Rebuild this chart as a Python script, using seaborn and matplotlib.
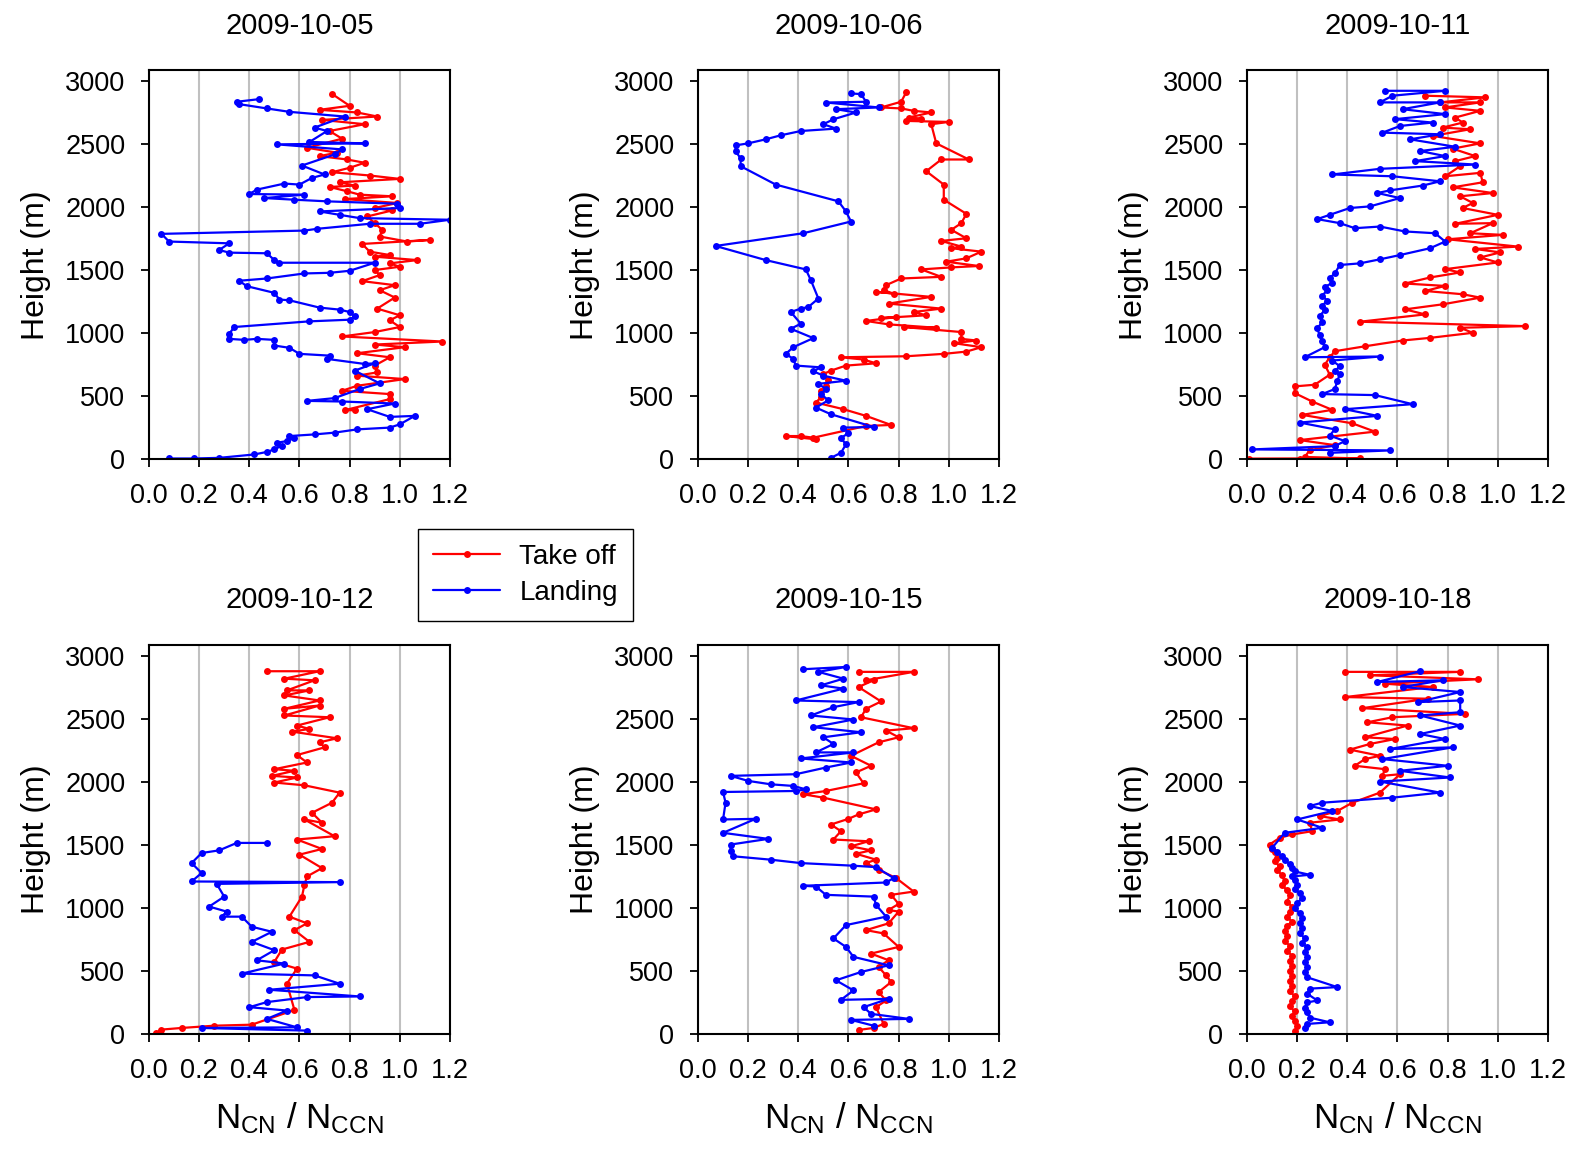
import pandas as pd
import matplotlib.pyplot as plt
import seaborn as sns

dates = ["2009-10-05", "2009-10-06", "2009-10-11", "2009-10-12", "2009-10-15", "2009-10-18"]
x_ticks = [0.0, 0.2, 0.4, 0.6, 0.8, 1.0, 1.2]
y_ticks = [0, 500, 1000, 1500, 2000, 2500, 3000]

# (N_CN / N_CCN, height in m), read along each profile
takeoff_1005 = [
    (0.73, 2900), (0.80, 2806), (0.68, 2774), (0.83, 2753), (0.91, 2721), (0.69, 2694),
    (0.86, 2660), (0.72, 2606), (0.77, 2545), (0.63, 2473), (0.75, 2434), (0.68, 2407),
    (0.79, 2380), (0.86, 2354), (0.80, 2314), (0.73, 2279), (0.88, 2253), (1.00, 2226),
    (0.76, 2199), (0.82, 2173), (0.72, 2162), (0.79, 2128), (0.84, 2101), (0.97, 2088),
    (0.78, 2066), (0.99, 2035), (0.90, 1995), (0.97, 1976), (0.87, 1928), (0.90, 1875),
    (0.93, 1822), (0.92, 1769), (1.03, 1729), (1.12, 1742), (0.85, 1710), (0.88, 1649),
    (0.96, 1622), (0.90, 1609), (1.07, 1582), (0.96, 1556), (1.00, 1529), (0.90, 1503),
    (0.92, 1463), (0.85, 1415), (0.98, 1383), (0.92, 1343), (0.98, 1285), (0.91, 1197),
    (1.00, 1144), (0.96, 1104), (1.00, 1051), (0.90, 1011), (0.77, 976), (1.17, 936),
    (0.90, 912), (1.02, 891), (0.83, 843), (0.96, 811), (0.90, 745), (0.91, 691),
    (0.83, 665), (1.02, 638), (0.83, 585), (0.77, 545), (0.96, 519), (0.96, 479),
    (0.78, 391), (0.82, 391),
]
landing_1005 = [
    (0.44, 2859), (0.35, 2838), (0.36, 2819), (0.47, 2785), (0.56, 2758), (0.78, 2721),
    (0.66, 2633), (0.71, 2606), (0.64, 2519), (0.86, 2508), (0.51, 2500), (0.77, 2460),
    (0.74, 2420), (0.61, 2332), (0.70, 2261), (0.65, 2234), (0.60, 2181), (0.54, 2189),
    (0.43, 2141), (0.40, 2106), (0.62, 2101), (0.46, 2074), (0.58, 2061), (0.71, 2048),
    (0.99, 2029), (1.00, 1995), (0.68, 1968), (0.76, 1941), (0.84, 1915), (1.20, 1902),
    (1.08, 1870), (0.88, 1870), (0.67, 1830), (0.62, 1816), (0.05, 1790), (0.08, 1729),
    (0.32, 1715), (0.28, 1662), (0.32, 1641), (0.47, 1636), (0.50, 1582), (0.52, 1561),
    (0.90, 1561), (0.80, 1497), (0.72, 1481), (0.62, 1476), (0.47, 1436), (0.36, 1418),
    (0.39, 1375), (0.50, 1322), (0.52, 1269), (0.56, 1263), (0.68, 1205), (0.76, 1189),
    (0.80, 1170), (0.82, 1136), (0.80, 1109), (0.64, 1096), (0.34, 1051), (0.32, 997),
    (0.32, 957), (0.38, 949), (0.43, 957), (0.50, 949), (0.50, 904), (0.56, 886),
    (0.60, 838), (0.72, 824), (0.71, 798), (0.86, 758), (0.90, 763), (0.82, 705),
    (0.92, 604), (0.84, 559), (0.74, 487), (0.63, 465), (0.77, 460), (0.98, 444),
    (0.87, 399), (0.96, 338), (1.06, 346), (1.00, 279), (0.96, 253), (0.83, 239),
    (0.74, 213), (0.66, 199), (0.56, 186), (0.58, 170), (0.55, 146), (0.51, 133),
    (0.53, 110), (0.50, 80), (0.47, 60), (0.42, 40), (0.28, 13), (0.18, 8), (0.08, 8),
]
takeoff_1006 = [
    (0.83, 2912), (0.81, 2838), (0.73, 2793), (0.81, 2785), (0.86, 2766), (0.93, 2753),
    (0.84, 2713), (0.89, 2705), (0.83, 2686), (1.00, 2678), (0.93, 2660), (0.95, 2508),
    (1.08, 2380), (0.97, 2380), (0.91, 2287), (0.98, 2181), (0.98, 2061), (1.07, 1949),
    (1.05, 1875), (1.01, 1822), (1.07, 1755), (0.97, 1734), (1.05, 1689), (1.01, 1676),
    (1.13, 1649), (1.07, 1596), (0.99, 1569), (1.12, 1535), (1.01, 1524), (0.89, 1508),
    (0.97, 1449), (0.81, 1436), (0.75, 1383), (0.74, 1343), (0.78, 1316), (0.71, 1330),
    (0.93, 1290), (0.76, 1237), (0.97, 1197), (0.86, 1170), (0.91, 1144), (0.73, 1122),
    (0.79, 1130), (0.67, 1099), (0.76, 1072), (0.95, 1045), (0.82, 1051), (1.05, 1011),
    (1.05, 957), (1.11, 944), (1.02, 923), (1.13, 891), (1.07, 856), (0.98, 838),
    (0.83, 819), (0.57, 811), (0.66, 793), (0.71, 763), (0.59, 745), (0.53, 705),
    (0.50, 678), (0.52, 630), (0.51, 585), (0.49, 540), (0.49, 492), (0.47, 452),
    (0.58, 399), (0.67, 346), (0.77, 274), (0.67, 266), (0.46, 173), (0.41, 186),
    (0.35, 186), (0.47, 160),
]
landing_1006 = [
    (0.61, 2904), (0.65, 2899), (0.67, 2838), (0.51, 2832), (0.72, 2793), (0.55, 2779),
    (0.63, 2753), (0.54, 2699), (0.50, 2660), (0.55, 2625), (0.41, 2606), (0.33, 2572),
    (0.27, 2540), (0.20, 2508), (0.15, 2492), (0.15, 2447), (0.17, 2388), (0.17, 2327),
    (0.31, 2181), (0.56, 2048), (0.59, 1968), (0.61, 1888), (0.42, 1795), (0.07, 1694),
    (0.27, 1582), (0.43, 1508), (0.45, 1423), (0.48, 1277), (0.44, 1210), (0.41, 1197),
    (0.37, 1170), (0.41, 1077), (0.37, 1037), (0.46, 963), (0.38, 891), (0.35, 838),
    (0.38, 798), (0.39, 745), (0.49, 731), (0.46, 700), (0.50, 665), (0.59, 625),
    (0.48, 600), (0.51, 560), (0.49, 519), (0.52, 470), (0.47, 412), (0.53, 359),
    (0.70, 258), (0.58, 253), (0.60, 210), (0.57, 170), (0.59, 120), (0.57, 53),
    (0.53, 13),
]
takeoff_1011 = [
    (0.71, 2886), (0.95, 2873), (0.77, 2833), (0.93, 2833), (0.79, 2793), (0.93, 2766),
    (0.83, 2713), (0.86, 2673), (0.78, 2633), (0.89, 2620), (0.74, 2567), (0.93, 2508),
    (0.82, 2466), (0.91, 2407), (0.83, 2367), (0.85, 2327), (0.79, 2247), (0.93, 2274),
    (0.94, 2199), (0.82, 2159), (0.98, 2114), (0.85, 2088), (0.90, 2035), (0.86, 1995),
    (1.00, 1941), (0.83, 1870), (0.98, 1875), (0.89, 1795), (1.02, 1782), (0.80, 1747),
    (1.08, 1689), (0.91, 1670), (1.01, 1643), (0.93, 1603), (1.00, 1563), (0.79, 1510),
    (0.85, 1484), (0.73, 1444), (0.63, 1396), (0.79, 1377), (0.71, 1337), (0.86, 1311),
    (0.93, 1284), (0.78, 1231), (0.63, 1191), (0.71, 1151), (0.45, 1093), (1.11, 1058),
    (0.85, 1045), (0.90, 1005), (0.73, 965), (0.62, 944), (0.47, 898), (0.35, 859),
    (0.33, 810), (0.31, 752), (0.33, 673), (0.27, 593), (0.19, 580), (0.19, 527),
    (0.26, 460), (0.34, 394), (0.22, 354), (0.42, 287), (0.51, 221), (0.21, 154),
    (0.35, 114), (0.25, 73), (0.23, 20), (0.45, 8), (0.01, 5), (0.21, 5),
]
landing_1011 = [
    (0.55, 2925), (0.79, 2925), (0.58, 2886), (0.53, 2833), (0.77, 2833), (0.62, 2779),
    (0.79, 2740), (0.59, 2700), (0.74, 2673), (0.61, 2646), (0.54, 2593), (0.77, 2580),
    (0.65, 2540), (0.83, 2481), (0.69, 2447), (0.79, 2407), (0.67, 2367), (0.91, 2340),
    (0.53, 2306), (0.34, 2261), (0.58, 2247), (0.77, 2207), (0.70, 2173), (0.57, 2135),
    (0.52, 2114), (0.61, 2074), (0.49, 2008), (0.41, 1995), (0.33, 1941), (0.28, 1907),
    (0.37, 1875), (0.43, 1835), (0.53, 1848), (0.63, 1809), (0.75, 1795), (0.79, 1729),
    (0.73, 1676), (0.61, 1622), (0.53, 1588), (0.45, 1556), (0.37, 1543), (0.35, 1476),
    (0.33, 1440), (0.34, 1400), (0.31, 1370), (0.32, 1343), (0.30, 1300), (0.32, 1260),
    (0.30, 1220), (0.31, 1184), (0.29, 1140), (0.30, 1090), (0.28, 1040), (0.29, 984),
    (0.30, 940), (0.31, 891), (0.23, 811), (0.53, 817), (0.34, 785), (0.37, 740),
    (0.35, 700), (0.37, 678), (0.36, 620), (0.35, 559), (0.30, 519), (0.51, 511),
    (0.66, 439), (0.39, 399), (0.52, 346), (0.21, 293), (0.35, 239), (0.33, 190),
    (0.39, 146), (0.35, 106), (0.02, 80), (0.57, 72), (0.33, 53),
]
takeoff_1012 = [
    (0.47, 2878), (0.68, 2878), (0.54, 2819), (0.66, 2806), (0.55, 2726), (0.64, 2726),
    (0.54, 2686), (0.68, 2646), (0.54, 2580), (0.68, 2606), (0.54, 2527), (0.72, 2513),
    (0.59, 2447), (0.64, 2420), (0.57, 2399), (0.75, 2346), (0.68, 2314), (0.70, 2274),
    (0.59, 2213), (0.63, 2154), (0.50, 2101), (0.58, 2088), (0.49, 2048), (0.59, 2035),
    (0.50, 1995), (0.62, 1973), (0.76, 1915), (0.73, 1835), (0.65, 1755), (0.69, 1676),
    (0.62, 1702), (0.74, 1569), (0.59, 1543), (0.69, 1468), (0.60, 1423), (0.69, 1316),
    (0.63, 1250), (0.62, 1184), (0.61, 1090), (0.56, 931), (0.63, 878), (0.58, 824),
    (0.64, 731), (0.53, 670), (0.50, 572), (0.59, 519), (0.55, 399), (0.58, 191),
    (0.41, 74), (0.26, 66), (0.13, 48), (0.05, 35), (0.03, 10),
]
landing_1012 = [
    (0.47, 1516), (0.35, 1516), (0.28, 1457), (0.21, 1436), (0.17, 1356), (0.21, 1277),
    (0.17, 1210), (0.76, 1205), (0.27, 1191), (0.30, 1090), (0.24, 1011), (0.31, 971),
    (0.29, 931), (0.37, 931), (0.41, 851), (0.49, 811), (0.41, 731), (0.50, 665),
    (0.43, 585), (0.54, 559), (0.37, 479), (0.66, 465), (0.76, 399), (0.48, 351),
    (0.84, 298), (0.63, 293), (0.47, 253), (0.40, 213), (0.55, 186), (0.47, 120),
    (0.59, 53), (0.21, 48), (0.63, 27),
]
takeoff_1015 = [
    (0.64, 2873), (0.86, 2873), (0.67, 2806), (0.70, 2806), (0.64, 2753), (0.73, 2638),
    (0.67, 2580), (0.65, 2513), (0.86, 2426), (0.75, 2407), (0.80, 2354), (0.72, 2314),
    (0.61, 2207), (0.69, 2128), (0.63, 2075), (0.66, 1989), (0.51, 1928), (0.42, 1902),
    (0.50, 1875), (0.71, 1782), (0.64, 1742), (0.60, 1707), (0.53, 1662), (0.57, 1609),
    (0.54, 1543), (0.68, 1529), (0.61, 1489), (0.69, 1457), (0.63, 1430), (0.71, 1383),
    (0.67, 1356), (0.72, 1303), (0.79, 1237), (0.86, 1130), (0.77, 1104), (0.80, 1032),
    (0.76, 984), (0.80, 971), (0.76, 878), (0.67, 824), (0.74, 798), (0.80, 691),
    (0.69, 638), (0.76, 585), (0.72, 532), (0.75, 465), (0.77, 412), (0.72, 332),
    (0.75, 266), (0.71, 213), (0.74, 80), (0.70, 48), (0.64, 32),
]
landing_1015 = [
    (0.42, 2894), (0.59, 2912), (0.48, 2873), (0.58, 2819), (0.49, 2766), (0.58, 2740),
    (0.39, 2646), (0.64, 2633), (0.54, 2593), (0.45, 2527), (0.62, 2495), (0.46, 2434),
    (0.65, 2394), (0.50, 2354), (0.54, 2301), (0.47, 2234), (0.62, 2234), (0.41, 2186),
    (0.61, 2154), (0.51, 2114), (0.39, 2061), (0.13, 2048), (0.20, 2008), (0.29, 1981),
    (0.38, 1968), (0.43, 1941), (0.39, 1928), (0.10, 1920), (0.11, 1835), (0.10, 1702),
    (0.23, 1707), (0.10, 1596), (0.28, 1548), (0.13, 1503), (0.13, 1449), (0.14, 1410),
    (0.29, 1383), (0.41, 1356), (0.62, 1335), (0.71, 1324), (0.78, 1237), (0.75, 1202),
    (0.42, 1176), (0.47, 1170), (0.51, 1104), (0.70, 1090), (0.71, 1024), (0.75, 931),
    (0.59, 864), (0.54, 758), (0.59, 691), (0.62, 612), (0.76, 545), (0.65, 492),
    (0.55, 426), (0.62, 346), (0.57, 271), (0.76, 279), (0.66, 213), (0.69, 160),
    (0.84, 120), (0.61, 112), (0.70, 66),
]
takeoff_1018 = [
    (0.39, 2873), (0.85, 2873), (0.49, 2846), (0.92, 2814), (0.55, 2779), (0.74, 2753),
    (0.39, 2673), (0.72, 2660), (0.46, 2585), (0.87, 2540), (0.58, 2513), (0.48, 2473),
    (0.64, 2447), (0.47, 2354), (0.59, 2340), (0.49, 2301), (0.41, 2256), (0.53, 2207),
    (0.47, 2181), (0.43, 2128), (0.55, 2101), (0.54, 2048), (0.61, 2061), (0.53, 1915),
    (0.42, 1835), (0.36, 1769), (0.29, 1729), (0.37, 1702), (0.25, 1676), (0.26, 1609),
    (0.18, 1583), (0.13, 1556), (0.09, 1503), (0.10, 1470), (0.11, 1440), (0.12, 1400),
    (0.11, 1370), (0.13, 1330), (0.12, 1300), (0.14, 1260), (0.15, 1210), (0.14, 1180),
    (0.16, 1140), (0.17, 1100), (0.16, 1050), (0.18, 1010), (0.17, 970), (0.16, 930),
    (0.18, 890), (0.16, 860), (0.15, 820), (0.16, 780), (0.15, 740), (0.17, 700),
    (0.16, 660), (0.18, 620), (0.17, 580), (0.18, 540), (0.17, 500), (0.18, 460),
    (0.17, 420), (0.18, 380), (0.17, 340), (0.19, 300), (0.18, 260), (0.17, 220),
    (0.19, 180), (0.18, 140), (0.19, 100), (0.20, 60), (0.19, 20),
]
landing_1018 = [
    (0.69, 2878), (0.52, 2793), (0.78, 2806), (0.62, 2753), (0.85, 2713), (0.68, 2633),
    (0.85, 2646), (0.85, 2553), (0.69, 2527), (0.85, 2447), (0.69, 2380), (0.79, 2340),
    (0.57, 2261), (0.82, 2274), (0.54, 2181), (0.80, 2128), (0.61, 2088), (0.81, 2035),
    (0.53, 2003), (0.77, 1915), (0.58, 1875), (0.30, 1835), (0.25, 1809), (0.34, 1769),
    (0.20, 1702), (0.30, 1636), (0.15, 1596), (0.10, 1476), (0.12, 1440), (0.14, 1410),
    (0.15, 1380), (0.17, 1350), (0.18, 1320), (0.19, 1290), (0.25, 1263), (0.18, 1250),
    (0.19, 1220), (0.20, 1180), (0.19, 1150), (0.21, 1120), (0.22, 1077), (0.20, 1040),
    (0.19, 997), (0.21, 960), (0.22, 917), (0.21, 880), (0.22, 840), (0.21, 800),
    (0.23, 760), (0.22, 720), (0.24, 690), (0.23, 650), (0.24, 610), (0.23, 570),
    (0.24, 530), (0.23, 490), (0.24, 450), (0.36, 372), (0.25, 360), (0.24, 320),
    (0.28, 266), (0.24, 250), (0.23, 210), (0.24, 173), (0.25, 130), (0.33, 93),
    (0.24, 80), (0.23, 50),
]

profiles = {
    "2009-10-05": (takeoff_1005, landing_1005),
    "2009-10-06": (takeoff_1006, landing_1006),
    "2009-10-11": (takeoff_1011, landing_1011),
    "2009-10-12": (takeoff_1012, landing_1012),
    "2009-10-15": (takeoff_1015, landing_1015),
    "2009-10-18": (takeoff_1018, landing_1018),
}

sns.set_style("ticks")
plt.rcParams["font.family"] = ["Liberation Sans", "DejaVu Sans"]
plt.rcParams["mathtext.fontset"] = "custom"
plt.rcParams["mathtext.rm"] = "Liberation Sans"
plt.rcParams["mathtext.it"] = "Liberation Sans"
plt.rcParams["text.color"] = "black"
plt.rcParams["axes.labelcolor"] = "black"
plt.rcParams["xtick.color"] = "black"
plt.rcParams["ytick.color"] = "black"

fig, axes = plt.subplots(2, 3, figsize=(15.88, 11.57), dpi=100)
fig.subplots_adjust(left=0.0938, right=0.9748, bottom=0.1063, top=0.9395,
                    wspace=0.824, hspace=0.475)

colors = {"Take off": "#ff0000", "Landing": "#0000ff"}

for i, (ax, date) in enumerate(zip(axes.flat, dates)):
    to, ld = profiles[date]
    df = pd.concat([
        pd.DataFrame(to, columns=["ratio", "height"]).assign(flight="Take off"),
        pd.DataFrame(ld, columns=["ratio", "height"]).assign(flight="Landing"),
    ], ignore_index=True)
    sns.lineplot(data=df, x="ratio", y="height", hue="flight", palette=colors,
                 sort=False, estimator=None, marker="o", markersize=5,
                 markeredgewidth=0, linewidth=1.6, ax=ax, legend=(i == 0))

    ax.set_xlim(0, 1.2)
    ax.set_ylim(0, 3090)
    ax.set_xticks(x_ticks)
    ax.set_xticklabels([f"{t:.1f}" for t in x_ticks])
    ax.set_yticks(y_ticks)
    ax.grid(axis="x", color="#c0c0c0", linewidth=1.5)
    ax.set_axisbelow(True)
    for s in ax.spines.values():
        s.set_linewidth(1.5)
        s.set_color("black")
    ax.tick_params(axis="both", direction="out", length=6, width=1.3,
                   labelsize=19.5, pad=11)
    ax.set_title(date, fontsize=21, pad=26)
    ax.set_ylabel("Height (m)", fontsize=23, labelpad=10)
    if i >= 3:
        ax.set_xlabel(r"$\mathregular{N_{CN}\ /\ N_{CCN}}$", fontsize=25, labelpad=12)
    else:
        ax.set_xlabel("")

handles, labels = axes[0, 0].get_legend_handles_labels()
axes[0, 0].get_legend().remove()
leg = fig.legend(handles, labels, loc="center", bbox_to_anchor=(0.331, 0.503),
                 fontsize=20, frameon=True, fancybox=False, edgecolor="black",
                 handlelength=2.4, handletextpad=0.7, labelspacing=0.35,
                 borderpad=0.55, borderaxespad=0)
leg.get_frame().set_linewidth(1.0)
leg.get_frame().set_alpha(1)

plt.savefig("out.png", dpi=100)
